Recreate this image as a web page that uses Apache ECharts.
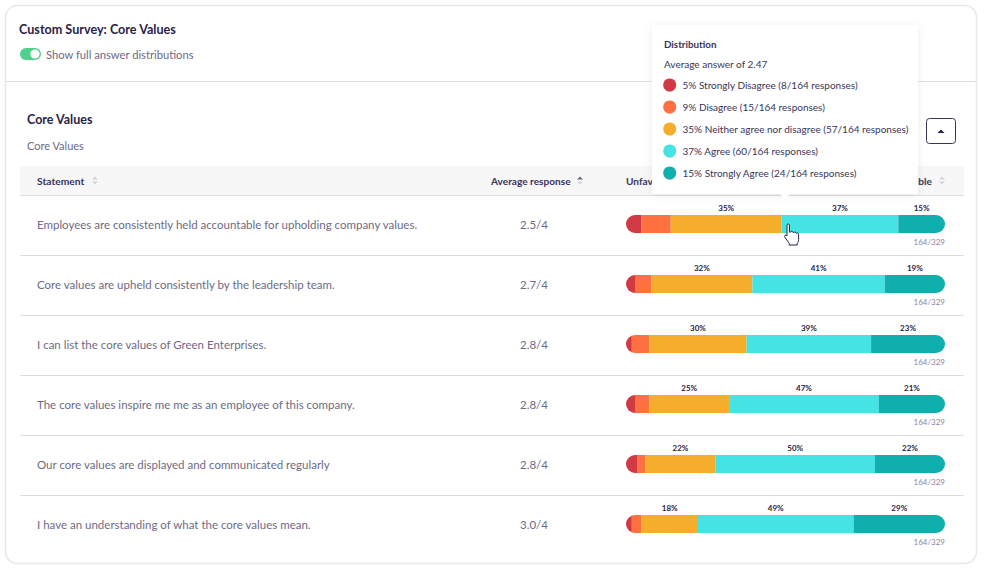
<!DOCTYPE html>
<html>
<head>
<meta charset="utf-8">
<style>
  html, body { margin: 0; padding: 0; background: #fff; }
  #chart { width: 987px; height: 571px; }
</style>
<script src="https://cdn.jsdelivr.net/npm/echarts@6/dist/echarts.min.js"></script>
</head>
<body>
<div id="chart"></div>
<script>
var statements = [
  'Employees are consistently held accountable for upholding company values.',
  'Core values are upheld consistently by the leadership team.',
  'I can list the core values of Green Enterprises.',
  'The core values inspire me me as an employee of this company.',
  'Our core values are displayed and communicated regularly',
  'I have an understanding of what the core values mean.'
];
var averages = ['2.5/4', '2.7/4', '2.8/4', '2.8/4', '2.8/4', '3.0/4'];
var answers = ['Strongly Disagree', 'Disagree', 'Neither agree nor disagree', 'Agree', 'Strongly Agree'];
var colors = ['#d13a45', '#ff7041', '#f5ae2b', '#45e3e3', '#11aeae'];

// responses per answer, one value per statement
var stronglyDisagree = [8, 5, 3, 5, 6, 3];
var disagree = [15, 8, 9, 7, 4, 5];
var neutral = [57, 52, 50, 41, 36, 29];
var agree = [60, 68, 64, 77, 82, 80];
var stronglyAgree = [24, 31, 38, 34, 36, 47];
var counts = [stronglyDisagree, disagree, neutral, agree, stronglyAgree];

var responded = 164;
var invited = 329;
var averageAnswer = '2.47';

var FONT = 'Lato';
var DARK = '#2a2348';
var GREY = '#6e6a84';
var BAR_H = 18;

// One custom series per answer, so that every segment can be clipped by the
// rounded outline of the whole bar (narrow end segments keep the pill shape).
function segmentSeries(answerIdx) {
  return {
    type: 'custom',
    name: answers[answerIdx],
    xAxisIndex: 0,
    yAxisIndex: 0,
    clip: false,
    z: 5,
    data: statements.map(function (s, row) {
      var start = 0;
      for (var i = 0; i < answerIdx; i++) start += counts[i][row];
      return [start, start + counts[answerIdx][row], row];
    }),
    encode: { x: [0, 1], y: 2 },
    renderItem: function (params, api) {
      var row = api.value(2);
      var p0 = api.coord([api.value(0), row]);
      var p1 = api.coord([api.value(1), row]);
      var left = api.coord([0, row])[0];
      var right = api.coord([responded, row])[0];
      var top = p0[1] - BAR_H / 2;
      var children = [{
        type: 'rect',
        shape: { x: p0[0], y: top, width: p1[0] - p0[0], height: BAR_H },
        style: { fill: colors[answerIdx] },
        clipPath: {
          type: 'rect',
          shape: { x: left, y: top, width: right - left, height: BAR_H, r: BAR_H / 2 }
        }
      }];
      if (answerIdx >= 2) {
        children.push({
          type: 'text',
          style: {
            x: (p0[0] + p1[0]) / 2,
            y: top - 7,
            text: Math.round((api.value(1) - api.value(0)) / responded * 100) + '%',
            align: 'center',
            verticalAlign: 'middle',
            fill: DARK,
            font: '700 8px ' + FONT
          }
        });
      }
      if (answerIdx === 4) {
        children.push({
          type: 'text',
          style: {
            x: right,
            y: top + BAR_H + 8.5,
            text: responded + '/' + invited,
            align: 'right',
            verticalAlign: 'middle',
            fill: '#8a879c',
            font: '400 8px ' + FONT
          }
        });
      }
      return { type: 'group', children: children };
    }
  };
}

// hand pointer resting on the neutral/agree boundary of the first bar
var cursorSeries = {
  type: 'custom',
  name: 'cursor',
  silent: true,
  clip: false,
  z: 30,
  data: [[stronglyDisagree[0] + disagree[0] + neutral[0], 0]],
  encode: { x: 0, y: 1 },
  renderItem: function (params, api) {
    var p = api.coord([api.value(0), api.value(1)]);
    return {
      type: 'path',
      shape: {
        pathData: 'M3 1.5 C3 0.4 5.2 0.4 5.2 1.5 L5.2 8 L6.2 8 C6.4 6.8 8.2 6.9 8.2 8 L9.2 8.4 C9.6 7.4 11 7.6 11 8.7 L11.8 9 C12.4 8.4 13.5 8.8 13.5 9.8 L13.5 14.5 C13.5 16.5 12.8 17.2 12.2 18 L12.2 19.5 L5 19.5 L5 18 L1 12.5 C0.3 11.2 1.8 10 3 11.2 Z',
        layout: 'cover',
        x: p[0] + 3,
        y: p[1],
        width: 14,
        height: 21
      },
      style: { fill: '#fff', stroke: '#2a2348', lineWidth: 1 }
    };
  }
};

function text(x, y, str, font, fill, align, z) {
  return {
    type: 'text', x: x, y: y, z: z || 1, silent: true,
    style: { text: str, font: font + ' ' + FONT, fill: fill, align: align || 'left', verticalAlign: 'middle' }
  };
}
function rect(x, y, w, h, fill, r, z, extra) {
  var style = Object.assign({ fill: fill }, extra || {});
  return { type: 'rect', z: z || 0, silent: true, shape: { x: x, y: y, width: w, height: h, r: r || 0 }, style: style };
}
function hline(y, x0, x1, color) {
  return { type: 'line', z: 1, silent: true, shape: { x1: x0, y1: y, x2: x1, y2: y }, style: { stroke: color, lineWidth: 1 } };
}
function sortIcon(x, y, upColor, downColor) {
  return [
    { type: 'polygon', z: 2, silent: true, shape: { points: [[x - 3, y - 1], [x + 3, y - 1], [x, y - 4]] }, style: { fill: upColor } },
    { type: 'polygon', z: 2, silent: true, shape: { points: [[x - 3, y + 1], [x + 3, y + 1], [x, y + 4]] }, style: { fill: downColor } }
  ];
}

var chrome = [];
// card
chrome.push(rect(5.5, 5.5, 971, 558, '#fff', 12, 0, { stroke: '#e6e8e8', lineWidth: 1.5 }));
chrome.push(text(19, 29, 'Custom Survey: Core Values', '700 12.6px', DARK));
chrome.push(rect(20, 48, 21, 12, '#4fd18c', 6, 1));
chrome.push({ type: 'circle', z: 2, silent: true, shape: { cx: 35, cy: 54, r: 4.6 }, style: { fill: '#fff' } });
chrome.push(text(46, 54, 'Show full answer distributions', '400 11.2px', GREY));
chrome.push(hline(81.5, 6, 976, '#dedfe3'));
chrome.push(text(27, 119, 'Core Values', '700 12.5px', DARK));
chrome.push(text(27, 145.5, 'Core Values', '400 11px', GREY));

// collapse button
chrome.push(rect(926.5, 118.5, 29, 25, '#fff', 3, 1, { stroke: '#3a3458', lineWidth: 1 }));
chrome.push({ type: 'polygon', z: 2, silent: true, shape: { points: [[937.5, 133], [944.5, 133], [941, 129.5]] }, style: { fill: DARK } });

// table head
chrome.push(rect(20, 166, 944, 30, '#f7f7f8', 0, 0));
chrome.push(hline(195.5, 20, 964, '#dedfe3'));
chrome.push(text(37, 180.5, 'Statement', '700 10.3px', '#3a3458'));
chrome = chrome.concat(sortIcon(95, 180.5, '#d3d3da', '#d3d3da'));
chrome.push(text(491, 180.5, 'Average response', '700 10.1px', '#3a3458'));
chrome = chrome.concat(sortIcon(580, 180.5, '#6a6680', '#d3d3da'));
chrome.push(text(626, 180.5, 'Unfavorable', '700 10.1px', '#3a3458'));
chrome.push(text(932, 180.5, 'Favorable', '700 10.1px', '#3a3458', 'right'));
chrome = chrome.concat(sortIcon(942, 180.5, '#d3d3da', '#d3d3da'));

// row dividers
[255.5, 315.5, 375.5, 435.5, 495.5].forEach(function (y) {
  chrome.push(hline(y, 20, 964, '#dcdcdf'));
});

// distribution popup over the first bar
var popup = [];
popup.push(rect(652, 25, 266, 169, '#fff', 3, 20, {
  shadowBlur: 8, shadowColor: 'rgba(40,35,70,0.08)', shadowOffsetY: 1
}));
popup.push({ type: 'polygon', z: 20, silent: true, shape: { points: [[780, 194], [790, 194], [785, 199]] }, style: { fill: '#fff' } });
popup.push(text(664, 44, 'Distribution', '700 9.8px', '#3a3458', 'left', 21));
popup.push(text(664, 63.5, 'Average answer of ' + averageAnswer, '400 10px', '#3a3458', 'left', 21));
answers.forEach(function (name, i) {
  var y = 85 + i * 22;
  var n = counts[i][0];
  popup.push({ type: 'circle', z: 21, silent: true, shape: { cx: 669.7, cy: y, r: 6.5 }, style: { fill: colors[i] } });
  popup.push(text(682.5, y, Math.round(n / responded * 100) + '% ' + name + ' (' + n + '/' + responded + ' responses)', '400 10px', '#3a3458', 'left', 21));
});

var chart = echarts.init(document.getElementById('chart'), null, { renderer: 'svg', width: 987, height: 571 });
chart.setOption({
  animation: false,
  backgroundColor: '#fff',
  textStyle: { fontFamily: FONT },
  grid: { left: 626, right: 42, top: 194, height: 360, containLabel: false },
  xAxis: { type: 'value', min: 0, max: responded, show: false },
  yAxis: [{
    type: 'category',
    inverse: true,
    data: statements,
    axisLine: { show: false },
    axisTick: { show: false },
    splitLine: { show: false },
    axisLabel: { align: 'left', margin: 589, color: GREY, fontSize: 11.5, fontFamily: FONT, padding: [2, 0, 0, 0] }
  }, {
    type: 'category',
    inverse: true,
    position: 'left',
    data: averages,
    axisLine: { show: false },
    axisTick: { show: false },
    splitLine: { show: false },
    axisLabel: { align: 'center', margin: 92, color: GREY, fontSize: 11.5, fontFamily: FONT, padding: [2, 0, 0, 0] }
  }],
  graphic: { elements: chrome.concat(popup) },
  series: answers.map(function (a, i) { return segmentSeries(i); }).concat([cursorSeries])
});
</script>
</body>
</html>
